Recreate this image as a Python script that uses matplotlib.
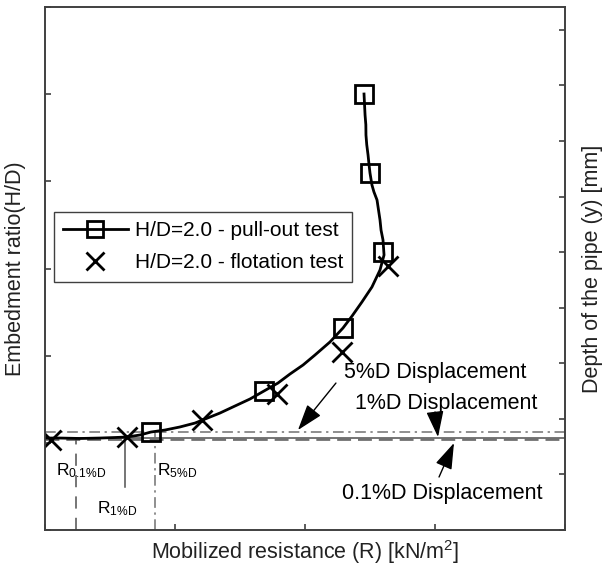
import matplotlib
matplotlib.use("Agg")
import matplotlib.pyplot as plt

plt.rcParams['font.family'] = ['Liberation Sans', 'DejaVu Sans']
plt.rcParams['mathtext.fontset'] = 'custom'
plt.rcParams['mathtext.rm'] = 'Liberation Sans'
plt.rcParams['mathtext.it'] = 'Liberation Sans'

# ---- data ----
curve_x = [0.000, 0.115, 0.269, 0.423, 0.538, 0.631, 0.731, 0.815, 0.923, 1.038,
           1.154, 1.231, 1.346, 1.462, 1.577, 1.685, 1.792, 1.885, 1.985, 2.077,
           2.192, 2.292, 2.362, 2.438, 2.515, 2.577, 2.608, 2.600, 2.585, 2.577,
           2.554, 2.530, 2.515, 2.500, 2.492, 2.485, 2.475, 2.469, 2.468, 2.462, 2.454]
curve_y = [1.055, 1.055, 1.050, 1.055, 1.061, 1.067, 1.090, 1.124, 1.147, 1.182,
           1.227, 1.273, 1.342, 1.423, 1.503, 1.595, 1.686, 1.790, 1.893, 2.008,
           2.157, 2.317, 2.455, 2.616, 2.788, 2.983, 3.155, 3.327, 3.440, 3.556,
           3.786, 3.880, 3.958, 4.095, 4.200, 4.302, 4.420, 4.531, 4.650, 4.761, 5.002]

pull_x = [2.454, 2.500, 2.600, 2.292, 1.685, 0.815]
pull_y = [5.002, 4.095, 3.190, 2.317, 1.595, 1.124]

flot_x = [0.046, 0.630, 1.210, 1.785, 2.285, 2.640]
flot_y = [1.030, 1.067, 1.262, 1.560, 2.040, 3.030]

disp_levels = {'5%D': 1.124, '1%D': 1.055, '0.1%D': 1.044}
r_values = {'0.1%D': 0.238, '1%D': 0.615, '5%D': 0.846}

legend_labels = ['H/D=2.0 - pull-out test', 'H/D=2.0 - flotation test']
xlabel = 'Mobilized resistance (R) [kN/m$^{2}$]'
ylabel_left = 'Embedment ratio(H/D)'
ylabel_right = 'Depth of the pipe (y) [mm]'

# ---- figure ----
fig = plt.figure(figsize=(6.03, 5.71), dpi=100)
ax = fig.add_axes([0.0746, 0.0718, 0.8624, 0.9159])
ax.set_xlim(0, 4)
ax.set_ylim(0, 6)

spine_c = '#404040'
for s in ax.spines.values():
    s.set_color(spine_c)
    s.set_linewidth(1.2)

# horizontal displacement lines
ax.axhline(disp_levels['5%D'], color='#707070', lw=1.1, ls=(0, (7, 3, 1.5, 3)), zorder=1)
ax.axhline(disp_levels['1%D'], color='#505050', lw=1.1, ls='-', zorder=1)
ax.axhline(disp_levels['0.1%D'], color='#707070', lw=2.0, ls=(0, (5, 2.5)), zorder=1)

# vertical R lines
ax.plot([r_values['0.1%D']] * 2, [0, disp_levels['0.1%D']], color='#505050', lw=1.1,
        ls=(0, (8, 6)), zorder=1)
ax.plot([r_values['1%D']] * 2, [0.49, disp_levels['1%D']], color='#505050', lw=1.1,
        ls='-', zorder=1)
ax.plot([r_values['5%D']] * 2, [0, disp_levels['5%D']], color='#707070', lw=1.1,
        ls=(0, (7, 3, 1.5, 3)), zorder=1)

# curve + markers
ax.plot(curve_x, curve_y, color='black', lw=2.0, zorder=3)
ax.plot(pull_x, pull_y, ls='none', marker='s', ms=12.5, mfc='none', mec='black',
        mew=2.0, zorder=4)
ax.plot(flot_x, flot_y, ls='none', marker='x', ms=14, mec='black', mew=2.0, zorder=4)

# legend proxies
h1, = ax.plot([], [], color='black', lw=2.0, marker='s', ms=11.5, mfc='none',
              mec='black', mew=2.0)
h2, = ax.plot([], [], ls='none', marker='x', ms=13, mec='black', mew=2.0)
leg = ax.legend([h1, h2], legend_labels, loc='upper left',
                bbox_to_anchor=(0.017, 0.608), borderaxespad=0, fontsize=15,
                handlelength=3.1, handletextpad=0.33, labelspacing=0.62,
                borderpad=0.45, fancybox=False, framealpha=1, edgecolor='#404040')
leg.get_frame().set_linewidth(1.0)

# R labels
ax.text(0.085, 0.631, r'R$_{\mathrm{0.1\%D}}$', fontsize=12.5, ha='left', va='baseline')
ax.text(0.40, 0.195, r'R$_{\mathrm{1\%D}}$', fontsize=12.5, ha='left', va='baseline')
ax.text(0.862, 0.631, r'R$_{\mathrm{5\%D}}$', fontsize=12.5, ha='left', va='baseline')

# annotations
astyle = dict(arrowstyle='-|>,head_length=0.9,head_width=0.3', color='black',
              lw=1.0, shrinkA=0, shrinkB=0, mutation_scale=18)
ax.annotate('', xy=(1.946, 1.147), xytext=(2.238, 1.686), arrowprops=astyle)
ax.annotate('', xy=(3.023, 1.067), xytext=(3.000, 1.354), arrowprops=astyle)
ax.annotate('', xy=(3.146, 0.998), xytext=(3.031, 0.608), arrowprops=astyle)
ax.text(3.00, 1.81, '5%D Displacement', fontsize=15.5, ha='center', va='center')
ax.text(3.085, 1.457, '1%D Displacement', fontsize=15.5, ha='center', va='center')
ax.text(3.054, 0.424, '0.1%D Displacement', fontsize=15.5, ha='center', va='center')

# ticks
ax.set_xticks([0, 1, 2, 3, 4])
ax.set_yticks([0, 1, 2, 3, 4, 5, 6])
ax.tick_params(axis='both', direction='in', length=4, width=1.2, color=spine_c,
               labelbottom=False, labelleft=False)
ax.set_xlabel(xlabel, fontsize=15.5, color='#222222', labelpad=6)
ax.set_ylabel(ylabel_left, fontsize=15.5, color='#222222', labelpad=14)

ax2 = ax.twinx()
ax2.set_ylim(0, 9.41)
ax2.set_yticks(list(range(10)))
ax2.tick_params(axis='y', direction='in', length=4, width=1.2, color=spine_c,
                labelright=False)
for s in ax2.spines.values():
    s.set_color(spine_c)
    s.set_linewidth(1.2)
ax2.set_ylabel(ylabel_right, fontsize=15.5, color='#222222', labelpad=12)

fig.savefig('out.png', dpi=100)
